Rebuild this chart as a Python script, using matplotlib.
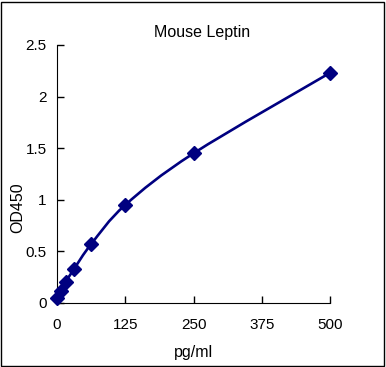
import matplotlib.pyplot as plt
from matplotlib.path import Path
from matplotlib.patches import PathPatch, Rectangle

plt.rcParams['font.family'] = ['Liberation Sans', 'DejaVu Sans']

conc = [0, 7.8, 15.6, 31.25, 62.5, 125, 250, 500]
od = [0.05, 0.12, 0.2, 0.33, 0.57, 0.95, 1.45, 2.23]
xticks = [0, 125, 250, 375, 500]
yticks = [0, 0.5, 1, 1.5, 2, 2.5]
navy = '#000080'


def smooth_path(xs, ys):
    # Catmull-Rom style bezier segments, like Excel's smoothed line
    verts = [(xs[0], ys[0])]
    codes = [Path.MOVETO]
    n = len(xs)
    for i in range(n - 1):
        x0, y0 = (xs[i - 1], ys[i - 1]) if i > 0 else (xs[i], ys[i])
        x1, y1 = xs[i], ys[i]
        x2, y2 = xs[i + 1], ys[i + 1]
        x3, y3 = (xs[i + 2], ys[i + 2]) if i + 2 < n else (x2, y2)
        t = 1 / 6
        verts += [(x1 + (x2 - x0) * t, y1 + (y2 - y0) * t),
                  (x2 - (x3 - x1) * t, y2 - (y3 - y1) * t),
                  (x2, y2)]
        codes += [Path.CURVE4] * 3
    return Path(verts, codes)


fig = plt.figure(figsize=(3.86, 3.67), dpi=100)
ax = fig.add_axes([57 / 386, 1 - 303 / 367, 273 / 386, 258 / 367])

ax.add_patch(PathPatch(smooth_path(conc, od), facecolor='none',
                       edgecolor=navy, lw=1.9, clip_on=False))
ax.plot(conc, od, linestyle='none', marker='D', markersize=7.5,
        color=navy, clip_on=False, zorder=3)

ax.set_xlim(0, 500)
ax.set_ylim(0, 2.5)
ax.set_xticks(xticks)
ax.set_xticklabels([str(v) for v in xticks])
ax.set_yticks(yticks)
ax.set_yticklabels(['0', '0.5', '1', '1.5', '2', '2.5'])
ax.tick_params(direction='in', length=5, width=1, labelsize=11)
ax.tick_params(axis='x', pad=11)
ax.tick_params(axis='y', pad=7.5)
ax.spines['top'].set_visible(False)
ax.spines['right'].set_visible(False)
ax.set_xlabel('pg/ml', fontsize=11.5, labelpad=9)
ax.set_ylabel('OD450', fontsize=11.5)
ax.yaxis.set_label_coords(-0.117, 0.368)

fig.text(202 / 386, 1 - 33 / 367, 'Mouse Leptin', ha='center', va='center',
         fontsize=11.5)
fig.patches.append(Rectangle((0.003, 0.003), 0.992, 0.992, transform=fig.transFigure,
                             fill=False, edgecolor='black', lw=1))

fig.savefig('out.png', dpi=100)
